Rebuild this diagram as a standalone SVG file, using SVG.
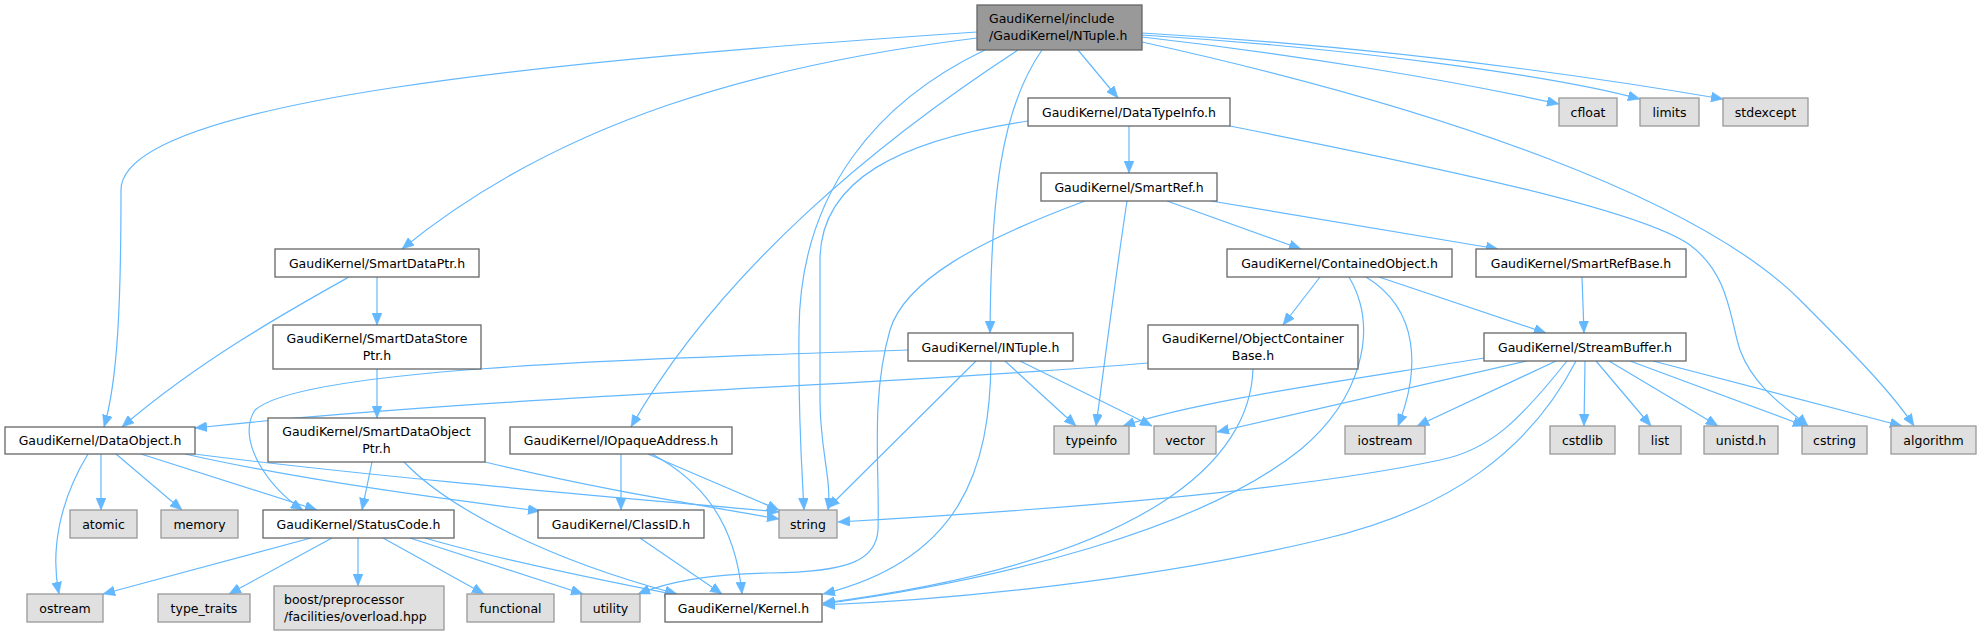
<svg xmlns="http://www.w3.org/2000/svg" width="1981" height="636" viewBox="0 0 1981 636">
<defs>
<style>
.n rect{fill:#ffffff;stroke:#666666;stroke-width:1.3}
.g rect{fill:#e0e0e0;stroke:#999999;stroke-width:1.3}
.r rect{fill:#999999;stroke:#666666;stroke-width:1.3}
text{font-family:"DejaVu Sans","Liberation Sans",sans-serif;font-size:12.5px;fill:#000000;text-anchor:middle}
text.l{text-anchor:start}
#edges path{fill:none;stroke:#63b8ff;stroke-width:1.2;marker-end:url(#arr)}
</style>
<marker id="arr" viewBox="0 0 12 10" refX="12" refY="5" markerWidth="12" markerHeight="10" markerUnits="userSpaceOnUse" orient="auto">
<path d="M0,0 L12,5 L0,10 z" fill="#63b8ff" stroke="#63b8ff" stroke-width="0.5"/>
</marker>
</defs>
<rect width="1981" height="636" fill="#ffffff"/>
<g id="edges">
<path d="M977,32 C 560,60 121,100 121,190 C 121,300 118,380 104,427"/>
<path d="M977,38 C 760,65 560,120 402,249"/>
<path d="M1078,50 L1118,98"/>
<path d="M1042,50 C 1000,110 991,200 990,333"/>
<path d="M1018,50 C 880,140 720,270 631,427"/>
<path d="M985,50 C 880,100 800,190 799,330 C 798,420 802,470 804,510"/>
<path d="M1028,121 C 900,140 820,180 820,260 L 820,400 C 820,450 832,480 828,510"/>
<path d="M1129,126 L1129,173"/>
<path d="M1230,126 C 1450,170 1640,210 1690,245 C 1730,275 1730,320 1740,350 C 1755,390 1790,410 1808,426"/>
<path d="M1167,201 L1301,249"/>
<path d="M1211,201 L1498,249"/>
<path d="M1127,201 C 1115,280 1105,360 1096,426"/>
<path d="M1085,201 C 980,240 905,280 890,330 C 870,400 880,470 878,530 C 876,560 850,572 770,573 C 700,574 660,585 638,594"/>
<path d="M1142,42 C 1450,110 1700,200 1800,300 C 1850,350 1890,390 1914,426"/>
<path d="M1142,37 C 1300,55 1450,80 1559,104"/>
<path d="M1142,35 C 1350,48 1550,75 1640,99"/>
<path d="M1142,33 C 1400,48 1600,78 1723,99"/>
<path d="M349,277 C 290,310 200,360 122,427"/>
<path d="M377,277 L377,325"/>
<path d="M377,369 L377,418"/>
<path d="M372,462 L362,510"/>
<path d="M404,462 C 450,510 550,560 677,594"/>
<path d="M485,462 C 600,490 700,505 779,519"/>
<path d="M88,454 C 60,500 50,550 59,594"/>
<path d="M101,454 L101,510"/>
<path d="M116,454 L182,510"/>
<path d="M141,454 L317,510"/>
<path d="M185,454 C 300,480 450,500 540,511"/>
<path d="M194,454 C 400,480 650,500 779,512"/>
<path d="M311,538 L103,594"/>
<path d="M332,538 L229,594"/>
<path d="M358,538 L358,586"/>
<path d="M383,538 L484,594"/>
<path d="M410,538 L583,594"/>
<path d="M425,538 C 500,560 600,580 677,595"/>
<path d="M621,454 L621,510"/>
<path d="M648,454 L779,510"/>
<path d="M652,454 C 700,480 735,520 742,594"/>
<path d="M640,538 L722,594"/>
<path d="M908,350 C 600,360 300,370 255,410 C 235,440 270,490 303,510"/>
<path d="M976,361 L828,508"/>
<path d="M991,361 C 990,470 960,560 823,594"/>
<path d="M1005,361 L1076,426"/>
<path d="M1020,361 L1152,426"/>
<path d="M1148,363 C 900,385 500,395 195,428"/>
<path d="M1253,369 C 1250,460 1150,560 823,603"/>
<path d="M1320,277 L1283,325"/>
<path d="M1349,277 C 1380,330 1360,400 1300,450 C 1200,530 1000,580 823,604"/>
<path d="M1366,277 C 1420,310 1420,370 1398,426"/>
<path d="M1379,277 L1546,333"/>
<path d="M1582,277 L1584,333"/>
<path d="M1484,358 C 1350,380 1200,400 1123,426"/>
<path d="M1527,361 L1217,432"/>
<path d="M1556,361 L1417,426"/>
<path d="M1567,361 C 1520,420 1490,450 1440,460 C 1300,490 1050,510 838,522"/>
<path d="M1576,361 C 1530,450 1450,510 1320,540 C 1150,580 950,600 823,605"/>
<path d="M1585,361 L1584,426"/>
<path d="M1596,361 L1651,426"/>
<path d="M1609,361 L1718,426"/>
<path d="M1630,361 L1805,426"/>
<path d="M1653,361 L1902,426"/>
</g>
<g id="node1" class="r"><rect x="977" y="5" width="165" height="45"/><text class="l" x="989" y="23">GaudiKernel/include</text><text class="l" x="989" y="40">/GaudiKernel/NTuple.h</text></g>
<g id="node2" class="n"><rect x="1028" y="98" width="202" height="28"/><text x="1129" y="116.5">GaudiKernel/DataTypeInfo.h</text></g>
<g id="node3" class="n"><rect x="1041" y="173" width="176" height="28"/><text x="1129" y="191.5">GaudiKernel/SmartRef.h</text></g>
<g id="node4" class="n"><rect x="275" y="249" width="204" height="28"/><text x="377" y="267.5">GaudiKernel/SmartDataPtr.h</text></g>
<g id="node5" class="n"><rect x="1227" y="249" width="225" height="28"/><text x="1339.5" y="267.5">GaudiKernel/ContainedObject.h</text></g>
<g id="node6" class="n"><rect x="1476" y="249" width="210" height="28"/><text x="1581" y="267.5">GaudiKernel/SmartRefBase.h</text></g>
<g id="node7" class="g"><rect x="1559" y="98" width="58" height="28"/><text x="1588" y="116.5">cfloat</text></g>
<g id="node8" class="g"><rect x="1640" y="98" width="59" height="28"/><text x="1669.5" y="116.5">limits</text></g>
<g id="node9" class="g"><rect x="1723" y="98" width="85" height="28"/><text x="1765.5" y="116.5">stdexcept</text></g>
<g id="node10" class="n"><rect x="273" y="325" width="208" height="44"/><text x="377" y="342.5">GaudiKernel/SmartDataStore</text><text x="377" y="359.5">Ptr.h</text></g>
<g id="node11" class="n"><rect x="908" y="333" width="165" height="28"/><text x="990.5" y="351.5">GaudiKernel/INTuple.h</text></g>
<g id="node12" class="n"><rect x="1148" y="325" width="210" height="44"/><text x="1253" y="342.5">GaudiKernel/ObjectContainer</text><text x="1253" y="359.5">Base.h</text></g>
<g id="node13" class="n"><rect x="1484" y="333" width="202" height="28"/><text x="1585" y="351.5">GaudiKernel/StreamBuffer.h</text></g>
<g id="node14" class="n"><rect x="5" y="427" width="190" height="27"/><text x="100" y="445">GaudiKernel/DataObject.h</text></g>
<g id="node15" class="n"><rect x="268" y="418" width="217" height="44"/><text x="376.5" y="435.5">GaudiKernel/SmartDataObject</text><text x="376.5" y="452.5">Ptr.h</text></g>
<g id="node16" class="n"><rect x="510" y="427" width="222" height="27"/><text x="621" y="445">GaudiKernel/IOpaqueAddress.h</text></g>
<g id="node17" class="g"><rect x="1054" y="426" width="75" height="28"/><text x="1091.5" y="444.5">typeinfo</text></g>
<g id="node18" class="g"><rect x="1154" y="426" width="62" height="28"/><text x="1185" y="444.5">vector</text></g>
<g id="node19" class="g"><rect x="1345" y="426" width="80" height="28"/><text x="1385" y="444.5">iostream</text></g>
<g id="node20" class="g"><rect x="1550" y="426" width="65" height="28"/><text x="1582.5" y="444.5">cstdlib</text></g>
<g id="node21" class="g"><rect x="1639" y="426" width="42" height="28"/><text x="1660" y="444.5">list</text></g>
<g id="node22" class="g"><rect x="1704" y="426" width="74" height="28"/><text x="1741" y="444.5">unistd.h</text></g>
<g id="node23" class="g"><rect x="1802" y="426" width="65" height="28"/><text x="1834.5" y="444.5">cstring</text></g>
<g id="node24" class="g"><rect x="1891" y="426" width="85" height="28"/><text x="1933.5" y="444.5">algorithm</text></g>
<g id="node25" class="g"><rect x="70" y="510" width="67" height="28"/><text x="103.5" y="528.5">atomic</text></g>
<g id="node26" class="g"><rect x="161" y="510" width="77" height="28"/><text x="199.5" y="528.5">memory</text></g>
<g id="node27" class="n"><rect x="263" y="510" width="191" height="28"/><text x="358.5" y="528.5">GaudiKernel/StatusCode.h</text></g>
<g id="node28" class="n"><rect x="538" y="510" width="166" height="28"/><text x="621" y="528.5">GaudiKernel/ClassID.h</text></g>
<g id="node29" class="g"><rect x="779" y="510" width="58" height="28"/><text x="808" y="528.5">string</text></g>
<g id="node30" class="g"><rect x="27" y="594" width="76" height="28"/><text x="65" y="612.5">ostream</text></g>
<g id="node31" class="g"><rect x="158" y="594" width="92" height="28"/><text x="204" y="612.5">type_traits</text></g>
<g id="node32" class="g"><rect x="274" y="586" width="170" height="44"/><text class="l" x="284" y="603.5">boost/preprocessor</text><text class="l" x="284" y="620.5">/facilities/overload.hpp</text></g>
<g id="node33" class="g"><rect x="467" y="594" width="87" height="28"/><text x="510.5" y="612.5">functional</text></g>
<g id="node34" class="g"><rect x="581" y="594" width="59" height="28"/><text x="610.5" y="612.5">utility</text></g>
<g id="node35" class="n"><rect x="665" y="594" width="157" height="28"/><text x="743.5" y="612.5">GaudiKernel/Kernel.h</text></g>
</svg>
